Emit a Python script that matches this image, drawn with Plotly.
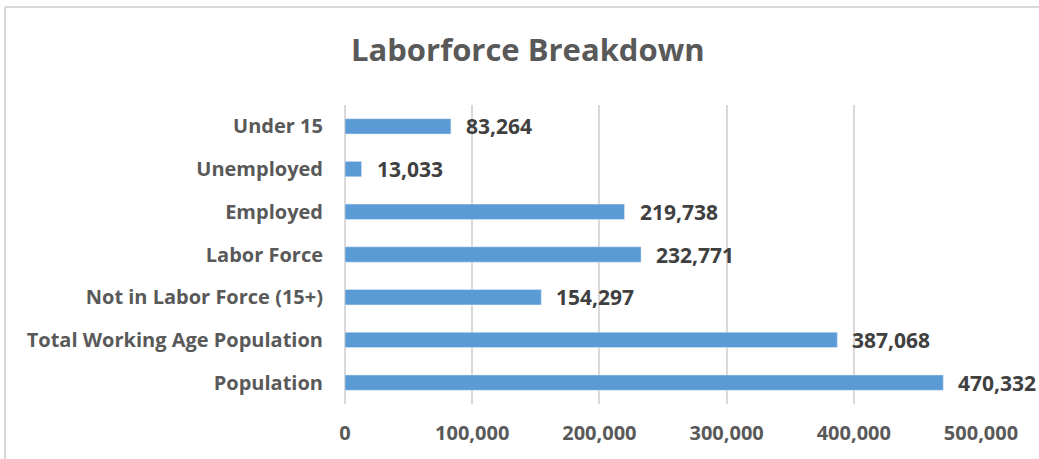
import plotly.graph_objects as go

categories = ["Under 15", "Unemployed", "Employed", "Labor Force",
              "Not in Labor Force (15+)", "Total Working Age Population", "Population"]
values = [83264, 13033, 219738, 232771, 154297, 387068, 470332]
x_ticks = [0, 100000, 200000, 300000, 400000, 500000]
x_tick_labels = ["0", "100,000", "200,000", "300,000", "400,000", "500,000"]

FONT = "Open Sans"
GRAY = "#595959"

fig = go.Figure()
fig.add_trace(go.Bar(
    x=values, y=categories, orientation="h",
    marker=dict(color="#5B9BD5"), width=0.36,
    hoverinfo="skip",
))

for c, v in zip(categories, values):
    fig.add_annotation(x=v, y=c, text=f"<b>{v:,}</b>", showarrow=False,
                       xanchor="left", xshift=13,
                       font=dict(family=FONT, size=21, color="#404040"))

# chart frame (left and top borders)
fig.add_shape(type="line", xref="paper", yref="paper", x0=-0.5346, x1=1.2,
              y0=1.3278, y1=1.3278, line=dict(color="#D9D9D9", width=2))
fig.add_shape(type="line", xref="paper", yref="paper", x0=-0.5346, x1=-0.5346,
              y0=1.3278, y1=-0.2, line=dict(color="#D9D9D9", width=2))

fig.update_layout(
    width=1039, height=459,
    margin=dict(l=345, r=58, t=105, b=55),
    paper_bgcolor="white", plot_bgcolor="white",
    showlegend=False,
    title=dict(text="<b>Laborforce Breakdown</b>", x=0.508, xref="container",
               xanchor="center", y=0.89, yref="container", yanchor="middle",
               font=dict(family=FONT, size=31, color=GRAY)),
    xaxis=dict(range=[0, 500000], tickvals=x_ticks, ticktext=[f"<b>{t}</b>" for t in x_tick_labels],
               showgrid=True, gridcolor="#D9D9D9", gridwidth=1.5,
               zeroline=True, zerolinecolor="#D9D9D9", zerolinewidth=1.5,
               showline=False, ticks="", ticklabelstandoff=15,
               tickfont=dict(family=FONT, size=20, color=GRAY)),
    yaxis=dict(autorange="reversed", showgrid=False, showline=False, ticks="",
               tickvals=categories, ticktext=[f"<b>{c}</b>" for c in categories],
               ticklabelstandoff=21,
               tickfont=dict(family=FONT, size=20, color=GRAY)),
)

fig.write_html("out.html", config={"displayModeBar": False},
               post_script="document.body.style.margin='0';")
